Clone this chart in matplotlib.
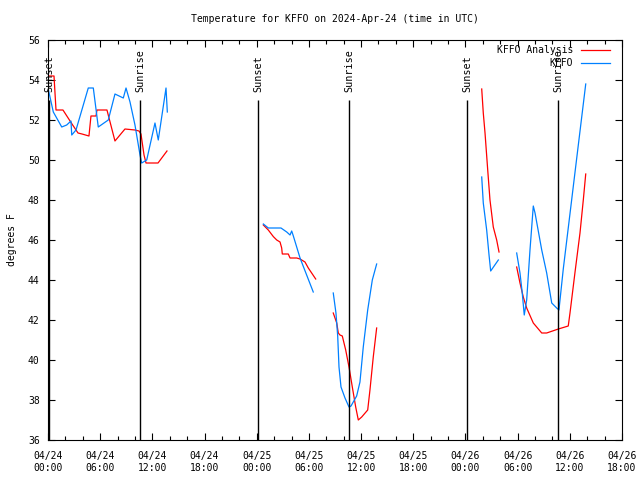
import numpy as np
import matplotlib
matplotlib.use('Agg')
import matplotlib.pyplot as plt

plt.rcParams['font.family'] = ['DejaVu Sans Mono']
plt.rcParams['font.size'] = 7

# hours since 2024-04-24 00:00 UTC, temperature in F
# KFFO Analysis (red), split where data is missing
ana_h1 = [0.0, 0.69, 0.92, 1.72, 2.76, 3.22, 3.45, 3.91, 4.71, 4.94, 5.52, 5.63, 6.78,
          7.70, 8.85, 10.0, 10.46, 10.69, 11.04, 11.27, 12.65, 13.68]
ana_t1 = [54.2, 54.2, 52.5, 52.5, 51.8, 51.5, 51.35, 51.3, 51.2, 52.2, 52.2, 52.5, 52.5,
          50.95, 51.55, 51.5, 51.45, 51.3, 50.25, 49.85, 49.85, 50.45]
ana_h2 = [24.76, 25.33, 25.91, 26.30, 26.68, 26.87, 26.94, 27.63, 27.83, 28.60, 28.98,
          29.55, 29.93, 30.78]
ana_t2 = [46.75, 46.5, 46.17, 46.0, 45.9, 45.6, 45.3, 45.3, 45.1, 45.1, 45.05, 44.9, 44.6, 44.05]
ana_h3 = [32.80, 33.20, 33.38, 33.57, 33.84, 34.23, 34.61, 34.99, 35.38, 35.68, 36.07,
          36.76, 37.02, 37.40, 37.79]
ana_t3 = [42.35, 41.85, 41.35, 41.25, 41.2, 40.5, 39.65, 38.65, 37.65, 37.0, 37.15, 37.5,
          38.5, 40.15, 41.6]
ana_h4 = [49.87, 50.05, 50.25, 50.56, 50.82, 51.20, 51.59, 51.86]
ana_t4 = [53.55, 52.35, 51.35, 49.5, 48.0, 46.65, 46.0, 45.4]
ana_h5 = [53.89, 54.27, 54.65, 55.04, 55.80, 56.77, 57.34, 58.68, 59.82, 60.02, 60.60,
          61.17, 61.55, 61.83]
ana_t5 = [44.65, 43.85, 43.15, 42.6, 41.85, 41.35, 41.35, 41.55, 41.7, 42.35, 44.4, 46.35,
          48.0, 49.3]

# KFFO observations (blue)
obs_h1 = [0.0, 0.61, 1.58, 2.15, 2.64, 2.73, 3.22, 4.63, 5.21, 5.78, 6.93, 7.70, 8.66,
          8.97, 9.43, 10.0, 10.58, 10.77, 11.35, 12.30, 12.68, 13.57, 13.72]
obs_t1 = [53.6, 52.4, 51.65, 51.75, 51.95, 51.25, 51.5, 53.6, 53.6, 51.65, 52.0, 53.3, 53.1,
          53.6, 52.9, 51.75, 50.25, 49.85, 50.0, 51.85, 51.0, 53.6, 52.4]
obs_h2 = [24.76, 25.33, 26.79, 27.45, 27.83, 28.02, 28.21, 28.98, 30.50]
obs_t2 = [46.8, 46.6, 46.6, 46.4, 46.25, 46.45, 46.2, 45.1, 43.4]
obs_h3 = [32.80, 33.11, 33.31, 33.46, 33.69, 34.15, 34.61, 34.84, 35.49, 35.87, 36.25,
          36.76, 37.29, 37.79]
obs_t3 = [43.35, 42.35, 41.2, 39.65, 38.65, 38.1, 37.65, 37.7, 38.2, 38.9, 40.65, 42.5,
          44.0, 44.8]
obs_h4 = [49.87, 50.05, 50.44, 50.71, 50.90, 51.78]
obs_t4 = [49.15, 47.85, 46.5, 45.25, 44.45, 45.0]
obs_h5 = [53.89, 54.27, 54.53, 54.76, 55.04, 55.42, 55.80, 56.00, 56.77, 57.34, 57.92,
          58.49, 58.75, 59.25, 59.82, 60.60, 61.17, 61.83]
obs_t5 = [45.35, 44.35, 43.35, 42.25, 43.0, 45.5, 47.7, 47.35, 45.5, 44.35, 42.85, 42.6,
          42.5, 44.56, 46.6, 49.4, 51.44, 53.8]

sun_h = [0.15, 10.58, 24.15, 34.61, 48.18, 58.64]
sun_lbl = ['Sunset', 'Sunrise', 'Sunset', 'Sunrise', 'Sunset', 'Sunrise']

xtick_h = list(range(0, 67, 6))
xtick_lbl = ['04/24\n00:00', '04/24\n06:00', '04/24\n12:00', '04/24\n18:00',
             '04/25\n00:00', '04/25\n06:00', '04/25\n12:00', '04/25\n18:00',
             '04/26\n00:00', '04/26\n06:00', '04/26\n12:00', '04/26\n18:00']

red = '#ff0000'
blue = '#0080ff'

fig = plt.figure(figsize=(6.4, 4.8), dpi=100)
ax = fig.add_axes([48/640, 40/480, 574/640, 400/480])

ana = [(ana_h1, ana_t1), (ana_h2, ana_t2), (ana_h3, ana_t3), (ana_h4, ana_t4), (ana_h5, ana_t5)]
obs = [(obs_h1, obs_t1), (obs_h2, obs_t2), (obs_h3, obs_t3), (obs_h4, obs_t4), (obs_h5, obs_t5)]

for i, (h, t) in enumerate(ana):
    ax.plot(h, t, color=red, lw=0.9, label='KFFO Analysis' if i == 0 else None)
for i, (h, t) in enumerate(obs):
    ax.plot(h, t, color=blue, lw=0.9, label='KFFO' if i == 0 else None)

# sunrise / sunset markers
ax.vlines(sun_h, 36, 53, color='black', lw=1.0)
for h, s in zip(sun_h, sun_lbl):
    ax.text(h, 53.4, s, rotation=90, ha='center', va='bottom', fontsize=7.3)

ax.set_xlim(0, 66)
ax.set_ylim(36, 56)
ax.set_xticks(xtick_h)
ax.set_xticklabels(xtick_lbl)
ax.set_xticks(range(0, 67, 2), minor=True)
ax.set_yticks(range(36, 57, 2))

ax.tick_params(which='both', direction='in', top=True, right=True, width=0.8)
ax.tick_params(which='major', length=5)
ax.tick_params(which='minor', length=3)
ax.tick_params(axis='x', pad=8)
ax.tick_params(axis='y', pad=6)
for sp in ax.spines.values():
    sp.set_linewidth(0.8)

ax.set_ylabel('degrees F', labelpad=8)
ax.set_title('Temperature for KFFO on 2024-Apr-24 (time in UTC)', fontsize=7, pad=13)

ax.legend(loc='upper right', bbox_to_anchor=(1 - 12/574, 1 - 5/400), frameon=False,
          markerfirst=False, handlelength=3.0, handletextpad=0.8, labelspacing=0.3,
          borderaxespad=0, borderpad=0)

plt.savefig('out.png', dpi=100)
